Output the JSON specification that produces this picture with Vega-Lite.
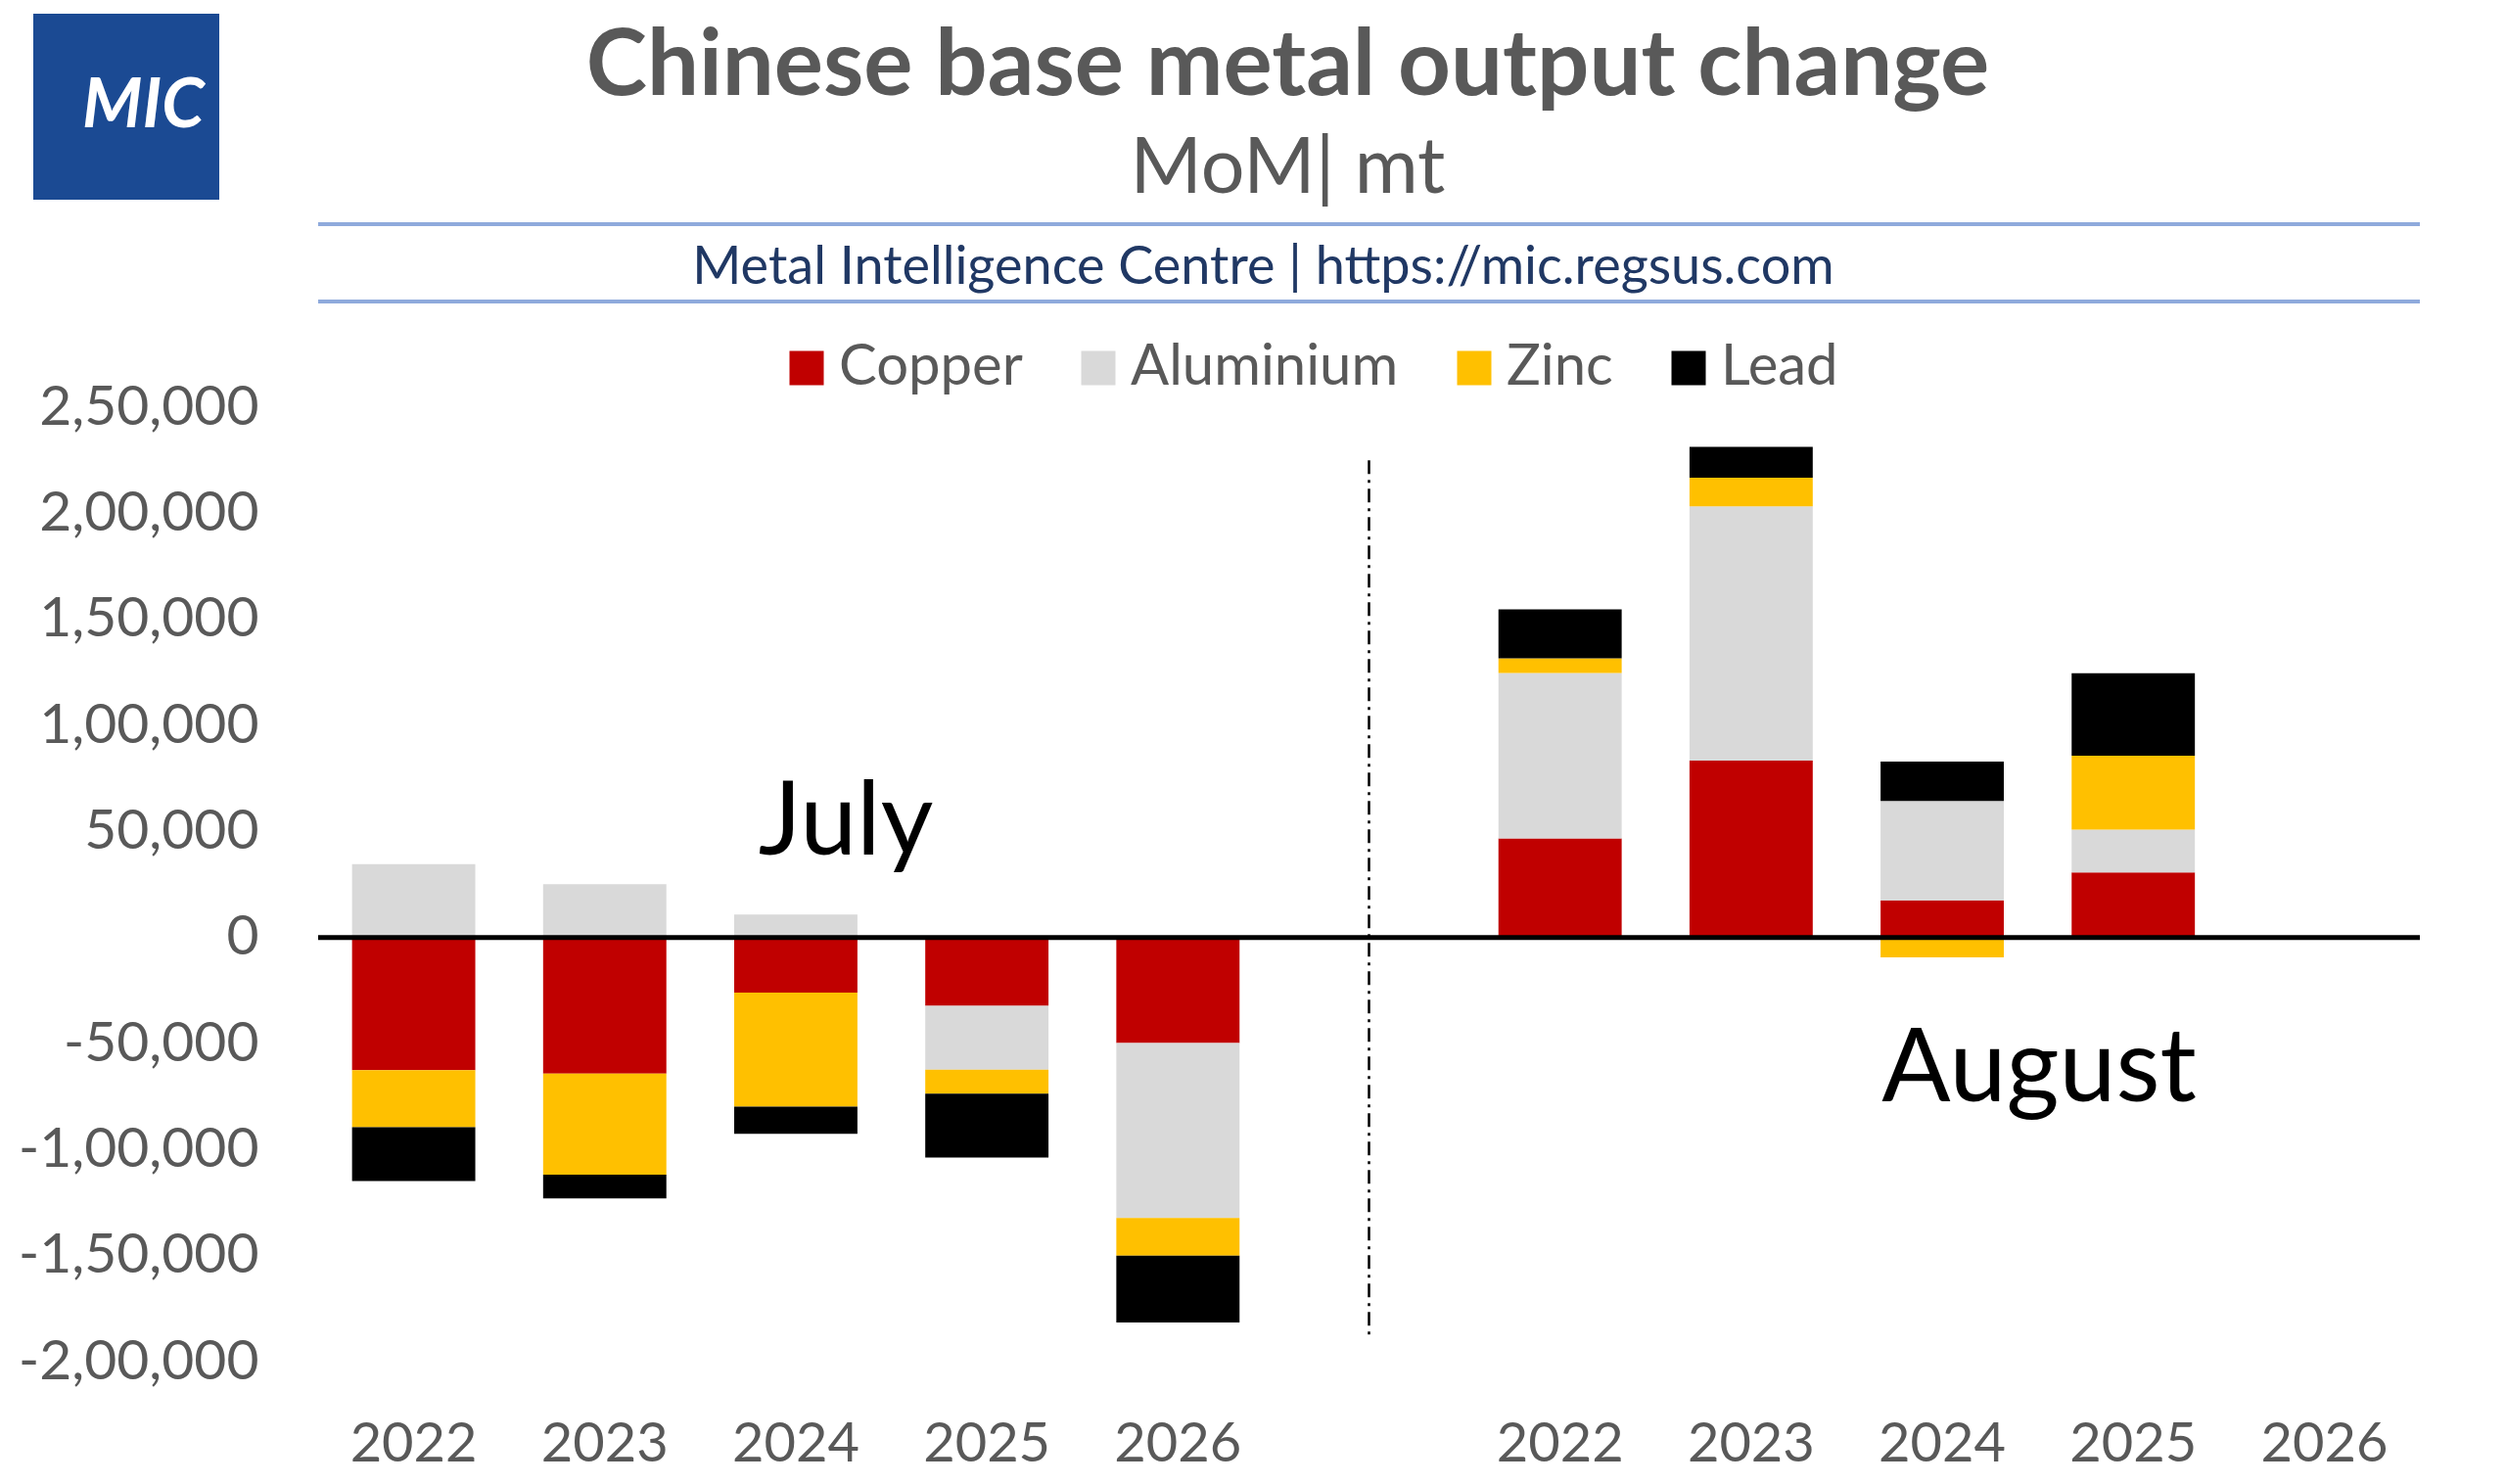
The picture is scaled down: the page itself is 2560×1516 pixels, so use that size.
{
  "$schema": "https://vega.github.io/schema/vega-lite/v6.json",
  "width": 2147,
  "height": 975,
  "autosize": {"type": "none"},
  "padding": {"left": 325, "top": 416, "right": 88, "bottom": 125},
  "background": "white",
  "config": {"view": {"stroke": null}, "font": "Lato"},
  "title": {
    "text": "Chinese base metal output change",
    "subtitle": "MoM| mt",
    "anchor": "middle",
    "frame": "group",
    "dx": -83,
    "offset": -200,
    "font": "Lato",
    "fontSize": 94,
    "fontWeight": "bold",
    "color": "#595959",
    "subtitleFont": "Lato",
    "subtitleFontSize": 79,
    "subtitleColor": "#595959",
    "subtitlePadding": 18
  },
  "datasets": {
    "bars": [
      {"period": "J2022", "metal": "Copper", "ord": 1, "value": -62600},
      {"period": "J2022", "metal": "Aluminium", "ord": 2, "value": 34600},
      {"period": "J2022", "metal": "Zinc", "ord": 3, "value": -26900},
      {"period": "J2022", "metal": "Lead", "ord": 4, "value": -25400},
      {"period": "J2023", "metal": "Copper", "ord": 1, "value": -64200},
      {"period": "J2023", "metal": "Aluminium", "ord": 2, "value": 25100},
      {"period": "J2023", "metal": "Zinc", "ord": 3, "value": -47700},
      {"period": "J2023", "metal": "Lead", "ord": 4, "value": -11100},
      {"period": "J2024", "metal": "Copper", "ord": 1, "value": -26000},
      {"period": "J2024", "metal": "Aluminium", "ord": 2, "value": 10800},
      {"period": "J2024", "metal": "Zinc", "ord": 3, "value": -53800},
      {"period": "J2024", "metal": "Lead", "ord": 4, "value": -12800},
      {"period": "J2025", "metal": "Copper", "ord": 1, "value": -32200},
      {"period": "J2025", "metal": "Aluminium", "ord": 2, "value": -30100},
      {"period": "J2025", "metal": "Zinc", "ord": 3, "value": -11400},
      {"period": "J2025", "metal": "Lead", "ord": 4, "value": -30100},
      {"period": "J2026", "metal": "Copper", "ord": 1, "value": -49800},
      {"period": "J2026", "metal": "Aluminium", "ord": 2, "value": -82500},
      {"period": "J2026", "metal": "Zinc", "ord": 3, "value": -17700},
      {"period": "J2026", "metal": "Lead", "ord": 4, "value": -31500},
      {"period": "A2022", "metal": "Copper", "ord": 1, "value": 46650},
      {"period": "A2022", "metal": "Aluminium", "ord": 2, "value": 78000},
      {"period": "A2022", "metal": "Zinc", "ord": 3, "value": 6950},
      {"period": "A2022", "metal": "Lead", "ord": 4, "value": 23100},
      {"period": "A2023", "metal": "Copper", "ord": 1, "value": 83400},
      {"period": "A2023", "metal": "Aluminium", "ord": 2, "value": 119900},
      {"period": "A2023", "metal": "Zinc", "ord": 3, "value": 13500},
      {"period": "A2023", "metal": "Lead", "ord": 4, "value": 14500},
      {"period": "A2024", "metal": "Copper", "ord": 1, "value": 17500},
      {"period": "A2024", "metal": "Aluminium", "ord": 2, "value": 46800},
      {"period": "A2024", "metal": "Zinc", "ord": 3, "value": -9400},
      {"period": "A2024", "metal": "Lead", "ord": 4, "value": 18600},
      {"period": "A2025", "metal": "Copper", "ord": 1, "value": 30700},
      {"period": "A2025", "metal": "Aluminium", "ord": 2, "value": 20100},
      {"period": "A2025", "metal": "Zinc", "ord": 3, "value": 34900},
      {"period": "A2025", "metal": "Lead", "ord": 4, "value": 38900}
    ]
  },
  "layer": [
    {
      "data": {"name": "bars"},
      "mark": {"type": "bar"},
      "encoding": {
        "x": {
          "field": "period",
          "type": "nominal",
          "sort": null,
          "scale": {
            "domain": ["J2022", "J2023", "J2024", "J2025", "J2026", "gap", "A2022", "A2023", "A2024", "A2025", "A2026"],
            "paddingInner": 0.355,
            "paddingOuter": 0.1775
          },
          "axis": {
            "title": null,
            "bandPosition": 0.5,
            "labelExpr": "datum.value == 'gap' ? '' : substring(datum.value, 1)",
            "labelFont": "Lato",
            "labelFontSize": 56,
            "labelColor": "#595959",
            "labelAngle": 0,
            "labelAlign": "center",
            "labelBaseline": "middle",
            "labelLimit": 400,
            "ticks": false,
            "domain": false,
            "labelPadding": 84
          }
        },
        "y": {
          "field": "value",
          "type": "quantitative",
          "stack": "zero",
          "scale": {"domain": [-200000, 250000], "nice": false},
          "axis": {
            "title": "Metal Intelligence Centre | https://mic.regsus.com",
            "titleAngle": 0,
            "titleX": 965,
            "titleY": -143,
            "titleAlign": "center",
            "titleBaseline": "middle",
            "titleFont": "Lato",
            "titleFontSize": 54,
            "titleFontWeight": "normal",
            "titleColor": "#203864",
            "titleLimit": 2000,
            "values": [-200000, -150000, -100000, -50000, 0, 50000, 100000, 150000, 200000, 250000],
            "labelExpr": "datum.value == 0 ? '0' : (datum.value < 0 ? '-' : '') + (abs(datum.value) >= 100000 ? floor(abs(datum.value) / 100000) + ',' + (abs(datum.value) % 100000 == 0 ? '00,000' : '50,000') : format(abs(datum.value), ','))",
            "labelFont": "Lato",
            "labelFontSize": 57,
            "labelColor": "#595959",
            "labelLimit": 500,
            "ticks": false,
            "domain": false,
            "grid": false,
            "labelPadding": 61
          }
        },
        "color": {
          "field": "metal",
          "type": "nominal",
          "scale": {
            "domain": ["Copper", "Aluminium", "Zinc", "Lead"],
            "range": ["#C00000", "#D9D9D9", "#FFC000", "#000000"]
          },
          "legend": {
            "orient": "none",
            "legendX": 470,
            "legendY": -69,
            "direction": "horizontal",
            "title": null,
            "padding": 0,
            "symbolType": "square",
            "symbolSize": 1225,
            "symbolStrokeWidth": 0,
            "labelFont": "Lato",
            "labelFontSize": 58,
            "labelColor": "#595959",
            "labelLimit": 600,
            "labelOffset": 4,
            "columnPadding": 48
          }
        },
        "order": {"field": "ord", "type": "quantitative"}
      }
    },
    {
      "data": {"values": [{"brand": "MIC"}]},
      "mark": {"type": "point", "filled": true, "size": 1, "color": "#1B4A93", "shape": "square"},
      "encoding": {
        "x": {"datum": "gap"},
        "y": {"datum": 0},
        "shape": {
          "field": "brand",
          "type": "nominal",
          "scale": {"range": ["square"]},
          "legend": {
            "orient": "none",
            "legendX": -291,
            "legendY": -402,
            "title": null,
            "padding": 0,
            "symbolSize": 36100,
            "symbolType": "square",
            "symbolFillColor": "#1B4A93",
            "symbolStrokeColor": "#1B4A93",
            "symbolStrokeWidth": 0,
            "symbolOpacity": 1,
            "labelColor": "white",
            "labelFont": "Lato",
            "labelFontSize": 70,
            "labelFontStyle": "italic",
            "labelFontWeight": "bold",
            "labelOffset": -140
          }
        }
      }
    },
    {
      "data": {"values": [{}]},
      "mark": {"type": "rule", "color": "black", "strokeWidth": 5},
      "encoding": {"y": {"datum": 0}}
    },
    {
      "data": {"values": [{}]},
      "mark": {"type": "rule", "color": "black", "strokeWidth": 2.5, "strokeDash": [14, 6, 3, 6]},
      "encoding": {
        "x": {"datum": "gap"},
        "y": {"datum": 225000},
        "y2": {"datum": -189000}
      }
    },
    {
      "data": {"values": [{}]},
      "mark": {"type": "rule", "color": "#8FAADC", "strokeWidth": 4},
      "encoding": {"y": {"datum": 336300}}
    },
    {
      "data": {"values": [{}]},
      "mark": {"type": "rule", "color": "#8FAADC", "strokeWidth": 4},
      "encoding": {"y": {"datum": 299850}}
    },
    {
      "data": {"values": [{"label": "July", "period": "J2024", "value": 53600}]},
      "mark": {"type": "text", "font": "Lato", "fontSize": 104, "color": "black", "dx": 51, "align": "center", "baseline": "middle"},
      "encoding": {
        "x": {"field": "period", "type": "nominal"},
        "y": {"field": "value", "type": "quantitative"},
        "text": {"field": "label"}
      }
    },
    {
      "data": {"values": [{"label": "August", "period": "A2024", "value": -62900}]},
      "mark": {"type": "text", "font": "Lato", "fontSize": 104, "color": "black", "dx": 99, "align": "center", "baseline": "middle"},
      "encoding": {
        "x": {"field": "period", "type": "nominal"},
        "y": {"field": "value", "type": "quantitative"},
        "text": {"field": "label"}
      }
    }
  ]
}
